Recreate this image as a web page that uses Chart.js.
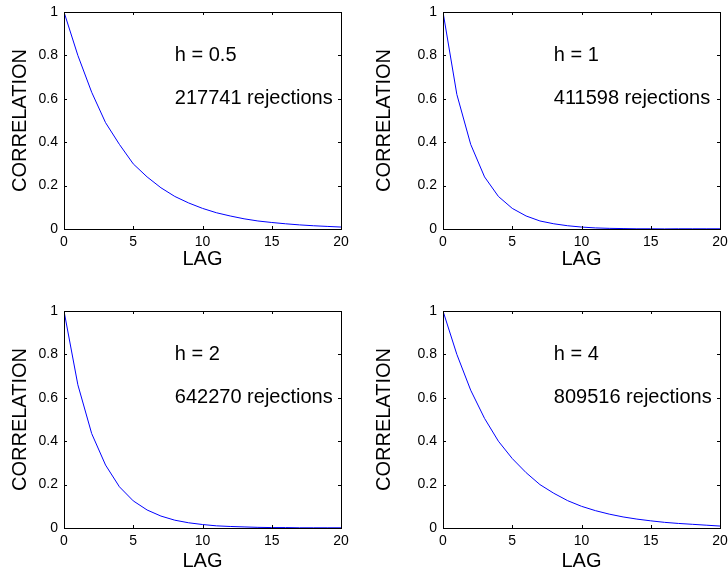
<!DOCTYPE html>
<html>
<head>
<meta charset="utf-8">
<script src="https://cdn.jsdelivr.net/npm/chart.js@4/dist/chart.umd.min.js"></script>
<style>
  body { margin: 0; background: #fff; }
  #lienzo { position: relative; width: 728px; height: 576px; overflow: hidden; }
  .panel { position: absolute; width: 364px; height: 288px; }
</style>
</head>
<body>
<div id="lienzo">
  <div class="panel" style="left:0;top:0"><canvas id="g1" width="364" height="288"></canvas></div>
  <div class="panel" style="left:364px;top:0"><canvas id="g2" width="364" height="288"></canvas></div>
  <div class="panel" style="left:0;top:288px"><canvas id="g3" width="364" height="288"></canvas></div>
  <div class="panel" style="left:364px;top:288px"><canvas id="g4" width="364" height="288"></canvas></div>
</div>
<script>
// datos
const LAGS = [0, 1, 2, 3, 4, 5, 6, 7, 8, 9, 10, 11, 12, 13, 14, 15, 16, 17, 18, 19, 20];
const X_TICKS = [0, 5, 10, 15, 20];
const Y_TICKS = [0, 0.2, 0.4, 0.6, 0.8, 1];

const corrH05 = [1, 0.80, 0.63, 0.49, 0.39, 0.30, 0.24, 0.19, 0.15, 0.12, 0.095, 0.075, 0.06, 0.047, 0.037, 0.03, 0.024, 0.019, 0.015, 0.012, 0.009];
const corrH1  = [1, 0.62, 0.39, 0.24, 0.15, 0.095, 0.06, 0.037, 0.024, 0.015, 0.009, 0.005, 0.003, 0.002, 0.001, 0.001, 0.0005, 0.001, 0.001, 0.001, 0.001];
const corrH2  = [1, 0.66, 0.435, 0.29, 0.19, 0.125, 0.083, 0.055, 0.036, 0.024, 0.016, 0.01, 0.007, 0.005, 0.003, 0.002, 0.002, 0.001, 0.001, 0.001, 0.001];
const corrH4  = [1, 0.80, 0.635, 0.505, 0.40, 0.32, 0.255, 0.20, 0.16, 0.126, 0.10, 0.08, 0.064, 0.051, 0.041, 0.033, 0.026, 0.021, 0.017, 0.013, 0.009];

const hLabels = ["h = 0.5", "h = 1", "h = 2", "h = 4"];
const rejections = ["217741 rejections", "411598 rejections", "642270 rejections", "809516 rejections"];

const FUENTE = "'Liberation Sans', Arial, Helvetica, sans-serif";

// caja + marcas hacia adentro + textos (estilo matlab)
const cajaPlugin = {
    id: "caja",
    afterDatasetsDraw(chart, args, opts) {
        const ctx = chart.ctx;
        const a = chart.chartArea;
        const xs = chart.scales.x;
        const ys = chart.scales.y;
        ctx.save();
        ctx.strokeStyle = "#000";
        ctx.lineWidth = 1;
        ctx.beginPath();
        X_TICKS.forEach(v => {
            let px = Math.round(xs.getPixelForValue(v)) + 0.5;
            ctx.moveTo(px, a.bottom); ctx.lineTo(px, a.bottom - 3);
            ctx.moveTo(px, a.top); ctx.lineTo(px, a.top + 3);
        });
        Y_TICKS.forEach(v => {
            let py = Math.round(ys.getPixelForValue(v)) + 0.5;
            ctx.moveTo(a.left, py); ctx.lineTo(a.left + 3, py);
            ctx.moveTo(a.right, py); ctx.lineTo(a.right - 3, py);
        });
        ctx.stroke();
        ctx.strokeRect(Math.round(a.left) + 0.5, Math.round(a.top) + 0.5,
            Math.round(a.right - a.left), Math.round(a.bottom - a.top));

        ctx.fillStyle = "#000";
        ctx.font = "20px " + FUENTE;
        ctx.textAlign = "left";
        ctx.textBaseline = "middle";
        ctx.fillText(opts.h, xs.getPixelForValue(8), ys.getPixelForValue(0.8));
        ctx.fillText(opts.rej, xs.getPixelForValue(8), ys.getPixelForValue(0.6));
        ctx.restore();
    }
};

function crearGrafico(id, valores, idx, cfg) {
    return new Chart(document.getElementById(id), {
        type: "line",
        data: {
            labels: LAGS,
            datasets: [{
                data: valores,
                borderColor: "#0000ff",
                borderWidth: 1,
                pointRadius: 0,
                tension: 0,
                fill: false
            }]
        },
        options: {
            responsive: false,
            animation: false,
            devicePixelRatio: 1,
            layout: { autoPadding: false, padding: { top: cfg.top, right: cfg.right, left: 0, bottom: 0 } },
            plugins: {
                legend: { display: false },
                tooltip: { enabled: false },
                caja: { h: hLabels[idx], rej: rejections[idx] }
            },
            scales: {
                x: {
                    type: "linear",
                    min: 0,
                    max: 20,
                    grid: { display: false, drawTicks: false },
                    border: { display: false },
                    afterBuildTicks: s => { s.ticks = X_TICKS.map(v => ({ value: v })); },
                    afterFit: s => {
                        s.height = cfg.xAlto;
                        s.paddingLeft = 0;
                        s.paddingRight = 0;
                    },
                    ticks: {
                        color: "#000",
                        padding: 5,
                        maxRotation: 0,
                        autoSkip: false,
                        font: { family: FUENTE, size: 14, lineHeight: 1.2 },
                        callback: v => String(v)
                    },
                    title: {
                        display: true,
                        text: "LAG",
                        color: "#000",
                        padding: { top: 0, bottom: cfg.titPad },
                        font: { family: FUENTE, size: 20, lineHeight: 1.2 }
                    }
                },
                y: {
                    min: 0,
                    max: 1,
                    grid: { display: false, drawTicks: false },
                    border: { display: false },
                    afterBuildTicks: s => { s.ticks = Y_TICKS.map(v => ({ value: v })); },
                    afterFit: s => {
                        s.width = cfg.yAncho;
                        s.paddingTop = 0;
                        s.paddingBottom = 0;
                    },
                    ticks: {
                        color: "#000",
                        padding: 6,
                        autoSkip: false,
                        font: { family: FUENTE, size: 14, lineHeight: 1.2 },
                        callback: v => String(+v.toFixed(1))
                    },
                    title: {
                        display: true,
                        text: "CORRELATION",
                        color: "#000",
                        padding: { top: 8, bottom: 0 },
                        font: { family: FUENTE, size: 20, lineHeight: 1.2 }
                    }
                }
            }
        },
        plugins: [cajaPlugin]
    });
}

crearGrafico("g1", corrH05, 0, { top: 12, right: 23, yAncho: 64, xAlto: 59, titPad: 17 });
crearGrafico("g2", corrH1,  1, { top: 12, right: 8,  yAncho: 79, xAlto: 59, titPad: 17 });
crearGrafico("g3", corrH2,  2, { top: 23, right: 23, yAncho: 64, xAlto: 48, titPad: 3 });
crearGrafico("g4", corrH4,  3, { top: 23, right: 8,  yAncho: 79, xAlto: 48, titPad: 3 });
</script>
</body>
</html>
